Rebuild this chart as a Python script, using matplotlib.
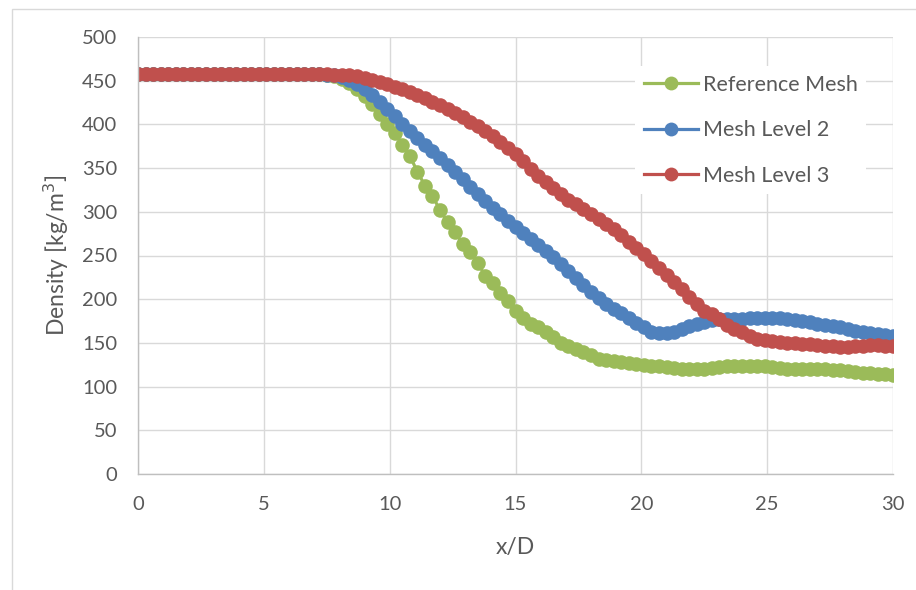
import numpy as np
import matplotlib
matplotlib.use("Agg")
import matplotlib.pyplot as plt
from matplotlib.patches import Rectangle

plt.rcParams['font.family'] = ['Lato', 'DejaVu Sans']

# x/D stations (0 to 30, step 0.3)
x_d = np.round(np.arange(101) * 0.3, 1)

reference_mesh = [
    458, 458, 458, 458, 458, 458, 458, 458, 458, 458,
    458, 458, 458, 458, 458, 458, 458, 458, 458, 458,
    458, 458, 458, 458, 458, 457, 455, 452, 447, 440,
    432, 423, 412, 401, 390, 377, 364, 346, 330, 318,
    302, 288, 277, 263, 254, 241, 227, 219, 207, 198,
    186, 178, 172, 168, 163, 157, 150, 146, 143, 140,
    136, 132, 130, 129, 128, 127, 126, 125, 124, 123,
    122, 121, 120, 120, 120, 120, 121, 122, 123, 124,
    124, 124, 123, 123, 122, 121, 120, 120, 120, 120,
    120, 120, 119, 119, 118, 117, 116, 115, 114, 114,
    113,
]

mesh_level_2 = [
    458, 458, 458, 458, 458, 458, 458, 458, 458, 458,
    458, 458, 458, 458, 458, 458, 458, 458, 458, 458,
    458, 458, 458, 458, 458, 457, 456, 454, 451, 446,
    440, 434, 426, 418, 410, 401, 393, 385, 377, 370,
    362, 354, 346, 337, 328, 320, 312, 304, 297, 290,
    283, 276, 269, 262, 255, 248, 240, 232, 224, 216,
    208, 201, 195, 189, 184, 178, 173, 168, 163, 161,
    161, 163, 166, 169, 172, 174, 176, 177, 177, 177,
    177, 178, 179, 179, 179, 178, 177, 176, 175, 174,
    172, 171, 169, 168, 166, 164, 163, 161, 160, 159,
    158,
]

mesh_level_3 = [
    458, 458, 458, 458, 458, 458, 458, 458, 458, 458,
    458, 458, 458, 458, 458, 458, 458, 458, 458, 458,
    458, 458, 458, 458, 458, 458, 457, 457, 456, 455,
    453, 451, 449, 446, 443, 440, 437, 434, 430, 426,
    422, 418, 413, 408, 403, 398, 393, 387, 380, 373,
    366, 358, 349, 341, 334, 327, 320, 314, 309, 303,
    298, 292, 286, 280, 273, 266, 259, 252, 244, 236,
    228, 220, 212, 203, 195, 187, 183, 177, 171, 166,
    162, 158, 155, 153, 152, 151, 150, 150, 149, 149,
    148, 147, 146, 145, 145, 146, 147, 148, 148, 147,
    146,
]

series = [
    ("Reference Mesh", reference_mesh, "#9BBB59"),
    ("Mesh Level 2", mesh_level_2, "#4F81BD"),
    ("Mesh Level 3", mesh_level_3, "#C0504D"),
]

fig = plt.figure(figsize=(9.16, 5.9), dpi=100)
ax = fig.add_axes([138 / 916, 1 - 474 / 590, (893 - 138) / 916, (474 - 37) / 590])

# chart frame (cropped Excel chart border)
fig.patches.append(Rectangle((12 / 916, -0.1), 1.2, 1 - 9 / 590 + 0.1,
                             transform=fig.transFigure, fill=False,
                             edgecolor="#D9D9D9", linewidth=1.0))

for name, vals, col in series:
    ax.plot(x_d, vals, color=col, linewidth=2.3, marker="o",
            markersize=10.5, markeredgewidth=0, label=name)

ax.set_xlim(0, 30)
ax.set_ylim(0, 500)
ax.set_xticks(range(0, 31, 5))
ax.set_yticks(range(0, 501, 50))
ax.grid(True, color="#D9D9D9", linewidth=1.0)
ax.set_axisbelow(True)
for s in ["top", "right"]:
    ax.spines[s].set_visible(False)
for s in ["left", "bottom"]:
    ax.spines[s].set_color("#BFBFBF")
    ax.spines[s].set_linewidth(1.0)
ax.tick_params(length=0, labelsize=14.5, colors="#595959")
ax.tick_params(axis="x", pad=16)
ax.tick_params(axis="y", pad=15)

ax.set_xlabel("x/D", fontsize=16.5, color="#595959", labelpad=17)
ax.set_ylabel("Density [kg/m$^3$]", fontsize=16.5, color="#595959", labelpad=8)

leg = ax.legend(loc="upper right", bbox_to_anchor=(0.979, 0.958), frameon=True,
                fontsize=15.5, handlelength=2.5, numpoints=1, labelspacing=1.18,
                handletextpad=0.25, borderpad=0.4, markerscale=0.95)
leg.get_frame().set_edgecolor("none")
leg.get_frame().set_facecolor("white")
leg.get_frame().set_alpha(1.0)
for t in leg.get_texts():
    t.set_color("#595959")

fig.savefig("out.png", dpi=100)
